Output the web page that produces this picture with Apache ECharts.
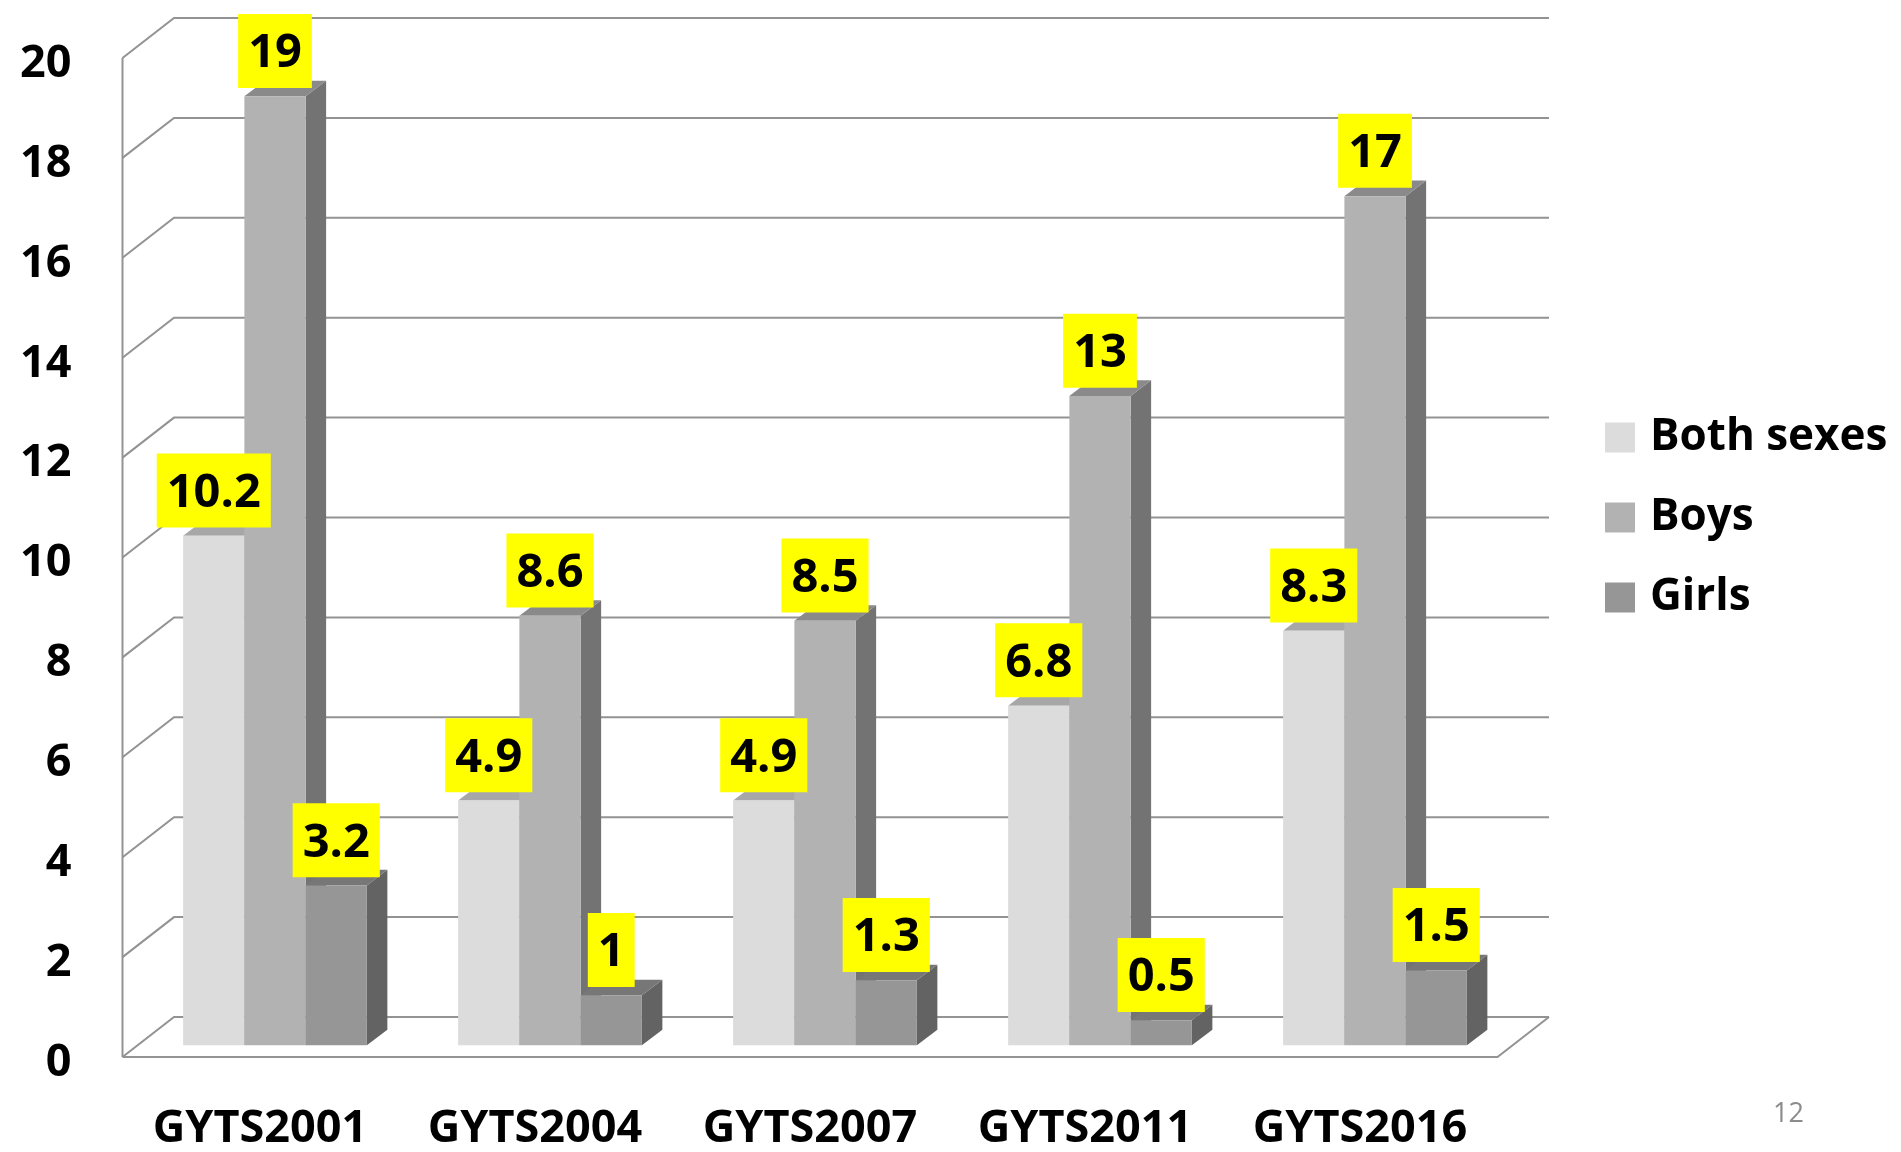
<!DOCTYPE html>
<html>
<head>
<meta charset="utf-8">
<script src="https://cdn.jsdelivr.net/npm/echarts@6/dist/echarts.min.js"></script>
<style>
html,body{margin:0;padding:0;background:#fff;}
#chart{width:1901px;height:1152px;}
</style>
</head>
<body>
<div id="chart"></div>
<script>
// ---- data ----
const categories = ['GYTS2001', 'GYTS2004', 'GYTS2007', 'GYTS2011', 'GYTS2016'];
const seriesNames = ['Both sexes', 'Boys', 'Girls'];
const bothSexes = [10.2, 4.9, 4.9, 6.8, 8.3];
const boys = [19, 8.6, 8.5, 13, 17];
const girls = [3.2, 1, 1.3, 0.5, 1.5];
const yTicks = [0, 2, 4, 6, 8, 10, 12, 14, 16, 18, 20];
const pageNumber = '12';

// ---- styles / layout ----
const FONT = '"Open Sans", "Liberation Sans", sans-serif';
const faceColors = [
  { front: '#dcdcdc', top: '#a7a7a7', side: '#9c9c9c' },
  { front: '#b2b2b2', top: '#8a8a8a', side: '#737373' },
  { front: '#969696', top: '#777777', side: '#636363' }
];
const BAR_FRAC = 0.2227;           // bar width as fraction of category band
const FRONT_OFF = [15, -11.7];     // bar front plane offset from front wall plane
const BAR_DEPTH = [20.5, -15.6];   // bar depth projection
const BACK_OFF = [51.5, -40];      // back wall offset
const WALL_COLOR = '#939393';

const chart = echarts.init(document.getElementById('chart'), null, { renderer: 'canvas' });

function wallRender(params, api) {
  const cs = params.coordSys;
  const t = api.value(1);
  const y = api.coord([0, t])[1];
  const line = (pts) => ({ type: 'polyline', shape: { points: pts }, style: { stroke: WALL_COLOR, lineWidth: 2, fill: null } });
  const children = [
    line([[cs.x, y], [cs.x + BACK_OFF[0], y + BACK_OFF[1]], [cs.x + cs.width + BACK_OFF[0], y + BACK_OFF[1]]])
  ];
  if (params.dataIndex === 0) {
    children.push(line([[cs.x, cs.y], [cs.x, y]]));
    children.push(line([[cs.x, y], [cs.x + cs.width, y], [cs.x + cs.width + BACK_OFF[0], y + BACK_OFF[1]]]));
  }
  return { type: 'group', children };
}

function makeBarRender(si) {
  const col = faceColors[si];
  return function (params, api) {
    const cat = api.value(0);
    const v = api.value(1);
    const p0 = api.coord([cat, 0]);
    const p1 = api.coord([cat, v]);
    const band = api.size([1, 0])[0];
    const bw = band * BAR_FRAC;
    const xl = p0[0] + FRONT_OFF[0] + (si - 1.5) * bw;
    const xr = xl + bw;
    const yb = p0[1] + FRONT_OFF[1];
    const yt = p1[1] + FRONT_OFF[1];
    const dx = BAR_DEPTH[0], dy = BAR_DEPTH[1];
    return {
      type: 'group',
      children: [
        { type: 'polygon', shape: { points: [[xr, yt], [xr + dx, yt + dy], [xr + dx, yb + dy], [xr, yb]] }, style: { fill: col.side } },
        { type: 'polygon', shape: { points: [[xl, yt], [xr, yt], [xr + dx, yt + dy], [xl + dx, yt + dy]] }, style: { fill: col.top } },
        { type: 'rect', shape: { x: xl, y: yt, width: bw, height: yb - yt }, style: { fill: col.front } },
        {
          type: 'text', x: (xl + xr) / 2, y: yt - 8.3, z2: 100,
          style: {
            text: String(v), fill: '#000', font: 'bold 47px ' + FONT,
            align: 'center', verticalAlign: 'bottom',
            backgroundColor: '#ffff00', padding: [13, 10, 7, 10], lineHeight: 54
          }
        }
      ]
    };
  };
}

const valueSets = [bothSexes, boys, girls];
const barSeries = valueSets.map((vals, si) => ({
  type: 'custom',
  name: seriesNames[si],
  z: 3,
  itemStyle: { color: faceColors[si].front },
  renderItem: makeBarRender(si),
  encode: { x: 0, y: 1 },
  data: vals.map((v, i) => [i, v])
}));

const option = {
  animation: false,
  backgroundColor: '#ffffff',
  grid: { left: 122.5, top: 58, width: 1375, height: 1002 },
  xAxis: {
    type: 'category',
    data: categories,
    axisLine: { show: false },
    axisTick: { show: false },
    axisLabel: { color: '#000', fontSize: 45, fontWeight: 'bold', fontFamily: FONT, margin: 50, interval: 0 }
  },
  yAxis: {
    type: 'value', min: 0, max: 20, interval: 2,
    axisLine: { show: false },
    axisTick: { show: false },
    splitLine: { show: false },
    axisLabel: { color: '#000', fontSize: 45, fontWeight: 'bold', fontFamily: FONT, margin: 51, verticalAlign: 'top', lineHeight: 12 }
  },
  legend: {
    orient: 'vertical',
    left: 1600, top: 410,
    icon: 'rect',
    itemWidth: 30, itemHeight: 30, itemGap: 35,
    data: seriesNames,
    textStyle: { color: '#000', fontSize: 44, fontWeight: 'bold', fontFamily: FONT, lineHeight: 45, padding: [0, 0, 0, 10] }
  },
  graphic: [{
    type: 'text', left: 1773, top: 1101,
    style: { text: pageNumber, fill: '#8c8c8c', font: '27px ' + FONT }
  }],
  series: [{
    type: 'custom',
    name: 'walls',
    z: 1,
    silent: true,
    renderItem: wallRender,
    encode: { x: 0, y: 1 },
    data: yTicks.map(t => [0, t])
  }].concat(barSeries)
};
chart.setOption(option);
</script>
</body>
</html>
